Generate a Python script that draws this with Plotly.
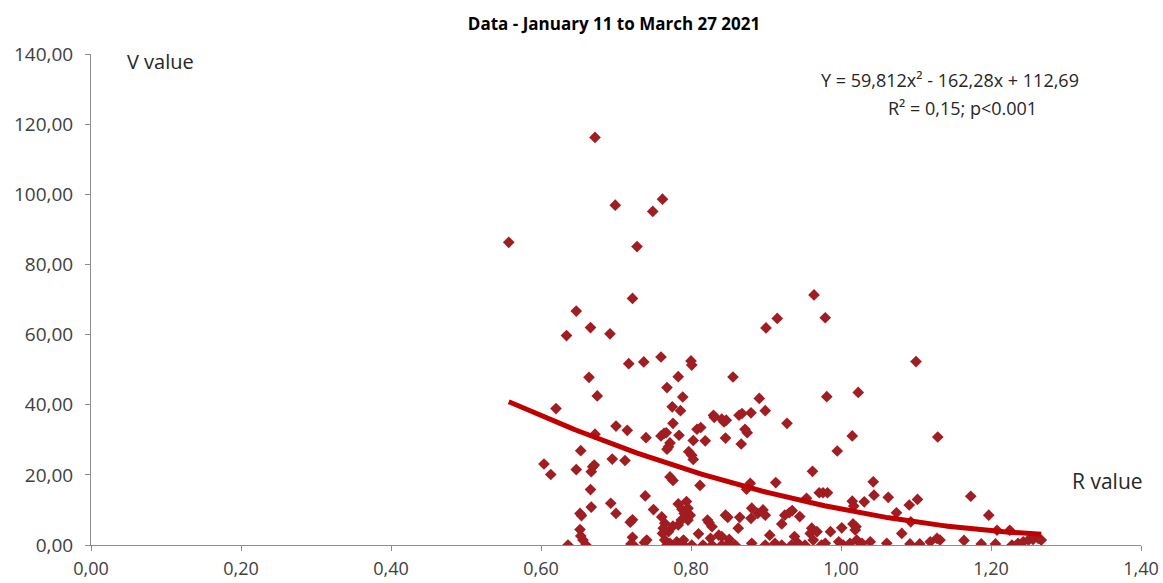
import numpy as np
import plotly.graph_objects as go

# R values (x) and V values (y)
r_values = [
    0.557, 0.672, 0.699, 0.749, 0.762, 0.728, 0.722, 0.647, 0.634, 0.666,
    0.692, 0.717, 0.737, 0.760, 0.800, 0.801, 0.964, 0.979, 0.900, 0.915,
    1.100, 0.664, 0.675, 0.783, 0.768, 0.789, 0.856, 0.620, 0.775, 0.786,
    0.830, 0.831, 0.841, 0.844, 0.847, 0.864, 0.868, 0.880, 0.891, 0.899,
    0.981, 1.023, 0.928, 0.872, 0.875, 0.846, 0.867, 0.808, 0.813, 0.803,
    0.819, 0.797, 0.801, 0.803, 0.672, 0.700, 0.715, 0.740, 0.760, 0.764,
    0.767, 0.776, 0.784, 0.772, 0.770, 0.768, 0.653, 0.695, 0.712, 0.604,
    0.613, 0.647, 0.667, 0.669, 0.671, 0.772, 0.776, 0.812, 0.666, 0.739,
    0.693, 0.667, 0.750, 0.700, 0.652, 0.654, 0.783, 0.794, 0.788, 0.791,
    0.799, 0.796, 0.796, 0.822, 0.824, 0.828, 0.846, 0.849, 0.865, 0.863,
    0.761, 0.765, 0.763, 0.770, 0.776, 0.783, 0.787, 0.719, 0.722, 0.652,
    0.653, 0.656, 0.762, 0.765, 0.810, 0.722, 0.781, 0.790, 0.826, 0.837,
    0.841, 0.851, 0.636, 0.660, 0.720, 0.723, 0.738, 0.741, 0.768, 0.772,
    0.779, 0.790, 0.801, 0.816, 0.828, 0.841, 0.850, 0.859, 0.881, 0.899,
    0.905, 0.912, 0.921, 0.934, 0.943, 0.952, 0.963, 0.974, 0.879, 0.874,
    0.913, 0.962, 0.954, 0.971, 0.881, 0.880, 0.889, 0.896, 0.899, 0.925,
    0.931, 0.935, 0.945, 0.921, 0.961, 0.959, 0.968, 0.938, 0.995, 1.015,
    1.129, 0.976, 0.982, 1.043, 1.044, 1.015, 1.017, 1.031, 1.063, 1.074,
    1.091, 1.102, 1.081, 1.093, 0.986, 1.001, 1.016, 1.020, 1.019, 0.979,
    0.997, 1.003, 1.012, 1.021, 1.028, 1.039, 1.061, 1.092, 1.105, 1.119,
    1.128, 1.132, 1.173, 1.197, 1.208, 1.225, 1.164, 1.187, 1.206, 1.228,
    1.236, 1.243, 1.250, 1.256, 1.263, 1.267,
]
v_values = [
    86.3, 116.2, 96.9, 95.1, 98.6, 85.1, 70.3, 66.7, 59.7, 62.0,
    60.2, 51.7, 52.2, 53.6, 52.5, 51.3, 71.3, 64.8, 61.9, 64.6,
    52.3, 47.8, 42.5, 48.0, 44.9, 42.2, 47.9, 38.9, 39.4, 38.3,
    37.0, 36.4, 35.9, 35.1, 35.6, 37.0, 37.5, 37.7, 41.8, 38.3,
    42.3, 43.5, 34.7, 33.0, 32.0, 30.5, 28.8, 33.0, 33.5, 29.8,
    29.7, 26.6, 25.6, 24.4, 31.6, 33.9, 32.7, 30.6, 31.1, 31.8,
    32.0, 34.7, 31.3, 29.1, 28.0, 27.3, 26.9, 24.5, 24.1, 23.1,
    20.1, 21.5, 20.9, 22.3, 22.8, 19.4, 18.4, 17.0, 15.8, 14.0,
    11.9, 10.8, 10.1, 9.0, 9.0, 8.4, 11.7, 12.4, 10.2, 9.0,
    8.5, 10.5, 7.1, 7.1, 6.4, 5.2, 8.5, 7.9, 7.9, 4.8,
    8.0, 6.2, 4.8, 3.8, 5.4, 5.7, 7.1, 6.5, 7.2, 4.4,
    2.6, 1.4, 3.3, 1.4, 3.2, 2.2, 0.9, 1.4, 1.9, 2.8,
    2.4, 1.6, 0.0, 0.0, 0.3, 0.0, 0.7, 1.4, 0.0, 0.5,
    0.0, 0.0, 0.0, 0.0, 0.0, 0.0, 0.5, 0.0, 0.5, 0.0,
    2.8, 0.5, 0.0, 0.0, 0.5, 0.0, 1.4, 0.0, 17.6, 15.9,
    17.8, 21.0, 13.3, 14.9, 10.5, 7.6, 9.0, 10.0, 8.5, 8.5,
    9.2, 9.8, 8.1, 6.0, 4.8, 3.3, 3.8, 2.4, 26.8, 31.1,
    30.8, 14.9, 14.9, 18.0, 14.2, 12.5, 11.1, 12.3, 13.6, 9.2,
    11.4, 13.0, 3.3, 6.6, 3.8, 4.9, 6.0, 5.2, 4.3, 0.5,
    0.9, 0.0, 0.5, 1.4, 0.5, 0.9, 0.5, 0.3, 0.3, 0.9,
    1.9, 1.4, 13.9, 8.5, 4.2, 4.2, 1.3, 0.3, 0.3, 0.0,
    0.5, 0.9, 1.4, 1.6, 1.9, 1.4,
]

# Quadratic trend coefficients shown on the chart (a, b, c)
trend_coeffs = [59.812, -162.28, 112.69]

x_ticks = [0.0, 0.2, 0.4, 0.6, 0.8, 1.0, 1.2, 1.4]
y_ticks = [0, 20, 40, 60, 80, 100, 120, 140]

title_text = "<b>Data - January 11 to March 27 2021</b>"
equation_text = "Y = 59,812x² - 162,28x + 112,69"
r2_text = "R² = 0,15; p<0.001"

font_family = "Open Sans, DejaVu Sans, sans-serif"
tick_color = "#404040"
label_color = "#262626"

trend_x = np.linspace(min(r_values), max(r_values), 200)
trend_y = np.polyval(trend_coeffs, trend_x)

fig = go.Figure()
fig.add_trace(go.Scatter(
    x=r_values, y=v_values, mode="markers",
    marker=dict(symbol="diamond", size=9, color="#A01D22",
                line=dict(width=0)),
    showlegend=False, hoverinfo="x+y",
))
fig.add_trace(go.Scatter(
    x=trend_x, y=trend_y, mode="lines",
    line=dict(color="#C00000", width=5),
    showlegend=False, hoverinfo="skip",
))

axis_common = dict(
    showgrid=False, zeroline=False, showline=True,
    linecolor="#8C8C8C", linewidth=1,
    ticks="outside", ticklen=5, tickcolor="#8C8C8C",
    tickformat=".2f", automargin=False,
)

fig.update_xaxes(range=[0, 1.4], tickvals=x_ticks, ticklabelstandoff=2,
                 tickfont=dict(family=font_family, size=18, color=tick_color),
                 **axis_common)
fig.update_yaxes(range=[0, 140], tickvals=y_ticks, ticklabelstandoff=8,
                 tickfont=dict(family=font_family, size=19, color=tick_color),
                 **axis_common)

fig.update_layout(
    width=1163, height=583,
    margin=dict(l=91, r=22, t=54, b=38),
    paper_bgcolor="white", plot_bgcolor="white",
    separators=", ",
    font=dict(family=font_family, color=tick_color),
    title=dict(text=title_text, x=0.528, xanchor="center",
               y=0.959, yanchor="middle",
               font=dict(family=font_family, size=17, color="#000000")),
    annotations=[
        dict(text="V value", xref="paper", yref="paper",
             x=0.032, y=0.984, xanchor="left", yanchor="middle",
             showarrow=False,
             font=dict(family=font_family, size=20, color=label_color)),
        dict(text=equation_text, xref="paper", yref="paper",
             x=0.818, y=0.947, xanchor="center", yanchor="middle",
             showarrow=False,
             font=dict(family=font_family, size=18, color=label_color)),
        dict(text=r2_text, xref="paper", yref="paper",
             x=0.830, y=0.890, xanchor="center", yanchor="middle",
             showarrow=False,
             font=dict(family=font_family, size=18, color=label_color)),
        dict(text="R value", xref="paper", yref="paper",
             x=1.004, y=0.130, xanchor="right", yanchor="middle",
             showarrow=False,
             font=dict(family=font_family, size=21, color=label_color)),
    ],
)

# remove the default page margin so the figure fills the window exactly
fig.write_html(
    "out.html",
    config={"displayModeBar": False},
    post_script="document.body.style.margin='0';"
                "document.documentElement.style.overflow='hidden';",
)
